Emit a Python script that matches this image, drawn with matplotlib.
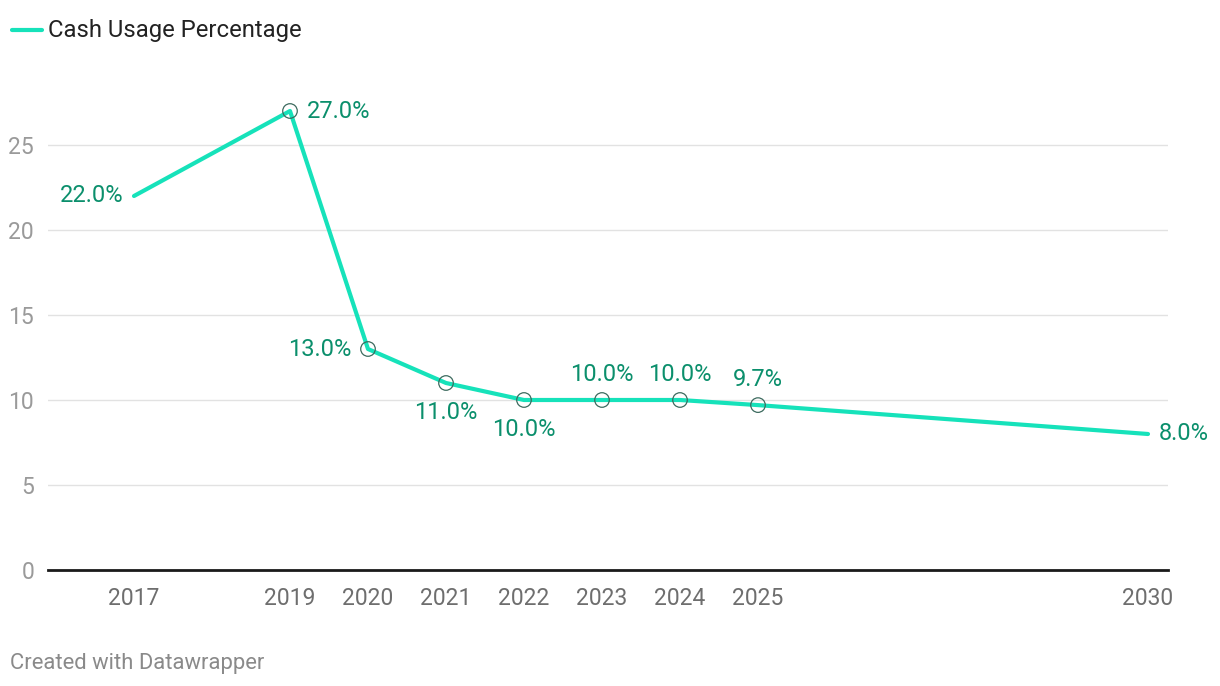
import matplotlib.pyplot as plt

plt.rcParams['font.family'] = ['Roboto', 'DejaVu Sans']

# ── data ──────────────────────────────────────────────
years = [2017, 2019, 2020, 2021, 2022, 2023, 2024, 2025, 2030]
cash_pct = [22.0, 27.0, 13.0, 11.0, 10.0, 10.0, 10.0, 9.7, 8.0]
# label positions relative to point
label_pos = ["left", "right", "left", "below", "below", "above", "above", "above", "right"]
marker_years = [2019, 2020, 2021, 2022, 2023, 2024, 2025]

LINE = "#16e2ba"
LABEL = "#0b8f6c"
W, H = 1220, 686

fig = plt.figure(figsize=(W / 100, H / 100), dpi=100)
ax = fig.add_axes([48 / W, (H - 570) / H, (1168 - 48) / W, (570 - 94) / H])

ax.plot(years, cash_pct, color=LINE, lw=3, solid_capstyle="round", zorder=3)
mx = [y for y in years if y in marker_years]
my = [v for y, v in zip(years, cash_pct) if y in marker_years]
ax.scatter(mx, my, s=110, facecolors="none", edgecolors="#3d6b5f",
           linewidths=0.9, zorder=4)

for x, v, p in zip(years, cash_pct, label_pos):
    side = 12 if x in marker_years else 7.5
    offsets = {"left": (-side, 0, "right", "center"),
               "right": (side, 0, "left", "center"),
               "above": (0, 10, "center", "bottom"),
               "below": (0, -13, "center", "top")}
    dx, dy, ha, va = offsets[p]
    ax.annotate(f"{v:.1f}%", (x, v), xytext=(dx, dy), textcoords="offset points",
                ha=ha, va=va, color=LABEL, fontsize=17)

ax.set_xlim(2017 - 86 / 78, 2030 + 20 / 78)
ax.set_ylim(0, 28)
ax.set_yticks([0, 5, 10, 15, 20, 25])
ax.set_xticks(years)
ax.set_xticklabels([str(y) for y in years])
ax.tick_params(axis="y", length=0, pad=10, labelsize=16.5, labelcolor="#9a9a9a")
ax.tick_params(axis="x", length=0, pad=12, labelsize=16.5, labelcolor="#6e6e6e")
ax.grid(axis="y", color="#e2e2e2", lw=1)
ax.set_axisbelow(True)
for s in ["top", "right", "left"]:
    ax.spines[s].set_visible(False)
ax.spines["bottom"].set_color("#1a1a1a")
ax.spines["bottom"].set_linewidth(2)
ax.spines["bottom"].set_zorder(2)

# legend
fig.add_artist(plt.Line2D([12 / W, 42 / W], [(H - 30) / H] * 2, color=LINE, lw=3,
                          solid_capstyle="round", transform=fig.transFigure))
fig.text(48 / W, (H - 31) / H, "Cash Usage Percentage", ha="left", va="center",
         fontsize=17.2, color="#222222")

fig.text(10 / W, (H - 663) / H, "Created with Datawrapper", ha="left", va="center",
         fontsize=15.8, color="#8a8a8a")

fig.savefig("out.png", dpi=100)
